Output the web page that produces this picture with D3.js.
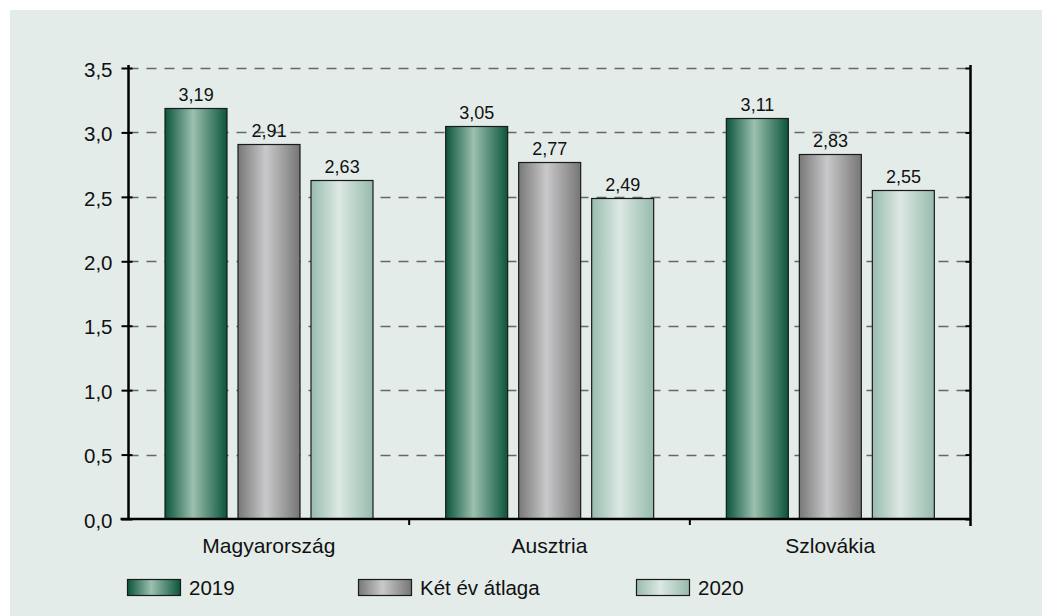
<!DOCTYPE html>
<html><head><meta charset="utf-8">
<script src="https://cdn.jsdelivr.net/npm/d3@7"></script>
<style>body{margin:0;background:#fff;}svg{display:block;font-family:"Liberation Sans",Arial,sans-serif;}</style>
</head><body>
<svg id="c" width="1042" height="616"></svg>
<script>
const categories = ["Magyarország", "Ausztria", "Szlovákia"];
const seriesNames = ["2019", "Két év átlaga", "2020"];
const values2019 = [3.19, 3.05, 3.11];
const valuesAvg = [2.91, 2.77, 2.83];
const values2020 = [2.63, 2.49, 2.55];
const yTicks = [0, 0.5, 1.0, 1.5, 2.0, 2.5, 3.0, 3.5];

const series = [values2019, valuesAvg, values2020];
const grads = [
  ["#0b553b", "#9cc0b0", "#0b553b"],
  ["#787878", "#c9c9cb", "#767676"],
  ["#98bcae", "#dce8e3", "#97bbad"]
];
const fmt = v => d3.format(".2f")(v).replace(".", ",");
const fmt1 = v => d3.format(".1f")(v).replace(".", ",");
const FONT = "Liberation Sans, Arial, sans-serif";

const svg = d3.select("#c");
svg.append("rect").attr("x", 10).attr("y", 10).attr("width", 1032).attr("height", 606).attr("fill", "#e4ece9");

const defs = svg.append("defs");
grads.forEach((g, i) => {
  const lg = defs.append("linearGradient").attr("id", "g" + i).attr("x1", "0").attr("x2", "1").attr("y1", "0").attr("y2", "0");
  lg.append("stop").attr("offset", "0").attr("stop-color", g[0]);
  lg.append("stop").attr("offset", "0.45").attr("stop-color", g[1]);
  lg.append("stop").attr("offset", "1").attr("stop-color", g[2]);
});

const L = 128.5, R = 970.5, T = 68, B = 519;
const x0 = d3.scaleBand().domain(categories).range([L, R]).paddingInner(0).paddingOuter(0);
const x1 = d3.scaleBand().domain(seriesNames).range([0, x0.bandwidth()]).paddingInner(0.15).paddingOuter(0.49);
const y = d3.scaleLinear().domain([0, 3.5]).range([B, T]);

// gridlines
svg.append("g").selectAll("line").data(yTicks.filter(d => d > 0)).join("line")
  .attr("x1", L).attr("x2", R).attr("y1", d => Math.round(y(d)) + 0.5).attr("y2", d => Math.round(y(d)) + 0.5)
  .attr("stroke", "#666").attr("stroke-width", 1.6).attr("stroke-dasharray", "10,8");

// bars
const groups = svg.append("g").selectAll("g").data(categories).join("g")
  .attr("transform", d => `translate(${x0(d)},0)`);
groups.each(function(cat, ci) {
  const g = d3.select(this);
  seriesNames.forEach((s, si) => {
    const v = series[si][ci];
    const bx = Math.round(x1(s)) + 0.5;
    const by = Math.round(y(v)) + 0.5;
    g.append("rect").attr("x", bx).attr("y", by).attr("width", Math.round(x1.bandwidth()))
      .attr("height", B - by).attr("fill", `url(#g${si})`).attr("stroke", "#1a1a1a").attr("stroke-width", 1.2);
    g.append("text").attr("x", bx + x1.bandwidth() / 2).attr("y", by - 8).attr("text-anchor", "middle")
      .attr("font-size", 18).attr("fill", "#111").text(fmt(v));
  });
});

// left axis
const yAxis = d3.axisLeft(y).tickValues(yTicks).tickFormat(fmt1).tickSize(7).tickPadding(9);
const ya = svg.append("g").attr("transform", `translate(${L},0)`).call(yAxis);
ya.attr("font-family", FONT).attr("font-size", 20.5);
ya.select(".domain").attr("stroke", "#000").attr("stroke-width", 2.5).attr("d", `M0,${T - 3}V${B + 1}`);
ya.selectAll(".tick line").attr("x1", 4).attr("stroke", "#000").attr("stroke-width", 2);
ya.selectAll(".tick text").attr("fill", "#111").attr("dy", "0.4em").attr("x", -16);

// right axis
const yAxisR = d3.axisLeft(y).tickValues(yTicks).tickFormat("").tickSize(0);
const yr = svg.append("g").attr("transform", `translate(${R},0)`).call(yAxisR);
yr.select(".domain").attr("stroke", "#000").attr("stroke-width", 2.5).attr("d", `M0,${T - 3}V${B + 7}`);
yr.selectAll(".tick line").attr("x1", -5).attr("x2", 0).attr("stroke", "#000").attr("stroke-width", 2);

// bottom axis
const bAxis = svg.append("g").attr("transform", `translate(0,${B})`);
bAxis.append("line").attr("x1", L - 8).attr("x2", R).attr("y1", 0).attr("y2", 0).attr("stroke", "#000").attr("stroke-width", 2.5);
bAxis.selectAll("line.sep").data(categories.slice(1)).join("line").attr("class", "sep")
  .attr("x1", d => x0(d)).attr("x2", d => x0(d)).attr("y1", 0).attr("y2", 6).attr("stroke", "#000").attr("stroke-width", 2);
bAxis.selectAll("text").data(categories).join("text")
  .attr("x", d => x0(d) + x0.bandwidth() / 2).attr("y", 34).attr("text-anchor", "middle")
  .attr("font-size", 21).attr("fill", "#111").text(d => d);

// legend
const legX = [127, 358, 636];
const leg = svg.append("g").selectAll("g").data(seriesNames).join("g")
  .attr("transform", (d, i) => `translate(${legX[i]},579)`);
leg.append("rect").attr("x", 0.5).attr("y", 0.5).attr("width", 53).attr("height", 16)
  .attr("fill", (d, i) => `url(#g${i})`).attr("stroke", "#1a1a1a").attr("stroke-width", 1.2);
leg.append("text").attr("x", 62).attr("y", 16).attr("font-size", 20.5).attr("fill", "#111").text(d => d);
</script>
</body></html>
